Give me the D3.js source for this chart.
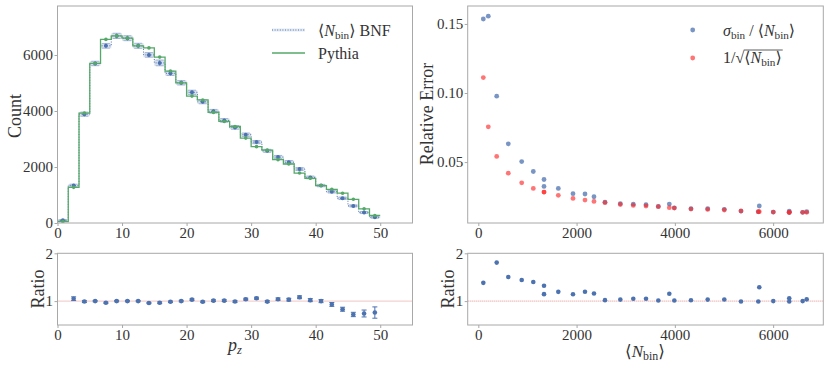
<!DOCTYPE html>
<html>
<head>
<meta charset="utf-8">
<script src="https://cdn.jsdelivr.net/npm/d3@7"></script>
<style>
  body { margin: 0; background: #fff; }
  svg text { font-family: "Liberation Serif", "DejaVu Serif", serif; fill: #333; }
</style>
</head>
<body>
<div id="chart"></div>
<script>
// p_z histogram: 30 bins of width 5/3 between 0 and 50
var binWidth = 5 / 3;
var nBins = 30;

// <N_bin> from BNF, per bin
var bnfMean = [102, 1337, 3887, 5698, 6328, 6683, 6601, 6328, 6003, 5718,
               5346, 5006, 4668, 4328, 3989, 3663, 3413, 3154, 2890, 2578,
               2354, 2171, 1927, 1628, 1337, 1119, 883, 610, 374, 203];
// Pythia counts, per bin
var pythia = [50, 1273, 3926, 5698, 6558, 6683, 6601, 6328, 6253, 5925,
              5427, 5006, 4532, 4394, 3950, 3627, 3447, 3033, 2726, 2604,
              2263, 2108, 1784, 1596, 1337, 1203, 1064, 847, 505, 267];
// sigma_bin / <N_bin>, per bin
var relErr = [0.1536, 0.0374, 0.0196, 0.0140, 0.0135, 0.0141, 0.0136, 0.0144, 0.0138, 0.0182,
              0.0145, 0.0158, 0.0162, 0.0163, 0.0169, 0.0179, 0.0191, 0.0195, 0.0199, 0.0210,
              0.0249, 0.0269, 0.0271, 0.0309, 0.0324, 0.0432, 0.0504, 0.0632, 0.0977, 0.1556];
// 1 / sqrt(<N_bin>), per bin
var invSqrt = [0.1112, 0.0283, 0.0170, 0.0141, 0.0136, 0.0136, 0.0136, 0.0136, 0.0138, 0.0141,
               0.0146, 0.0153, 0.0157, 0.0160, 0.0167, 0.0177, 0.0182, 0.0186, 0.0193, 0.0206,
               0.0215, 0.0225, 0.0237, 0.0259, 0.0283, 0.0309, 0.0350, 0.0420, 0.0541, 0.0755];

var pzTicks    = [0, 10, 20, 30, 40, 50];
var countTicks = [0, 2000, 4000, 6000];
var nTicks     = [0, 2000, 4000, 6000];
var errTicks   = [0.05, 0.10, 0.15];
var ratioTicks = [1, 2];

var BLUE = '#4c72b0', GREEN = '#55a868', RED = '#ff2a2a', FRAME = '#a8a8a8';

var svg = d3.select('#chart').append('svg')
  .attr('width', 830).attr('height', 369);

var bins = d3.range(nBins).map(function(i) {
  var lo = i * binWidth;
  return {
    lo: lo, hi: lo + binWidth, mid: lo + binWidth / 2,
    bnf: bnfMean[i], py: pythia[i],
    sig: relErr[i] * bnfMean[i],
    rel: relErr[i], pois: invSqrt[i]
  };
});

// panel boxes
var L = {x0: 57.5, x1: 412.5}, R = {x0: 467.7, x1: 823.3};
var T = {y0: 6, y1: 223}, B = {y0: 253.3, y1: 325};

var xPz    = d3.scaleLinear().domain([0, 55]).range([L.x0, L.x1]);
var yCount = d3.scaleLinear().domain([0, 7750]).range([T.y1, T.y0]);
var xN     = d3.scaleLinear().domain([-216, 7021]).range([R.x0, R.x1]);
var yErr   = d3.scaleLinear().domain([0.0059, 0.163]).range([T.y1, T.y0]);
var yRatL  = d3.scaleLinear().domain([0.5, 2]).range([B.y1, B.y0]);
var yRatR  = d3.scaleLinear().domain([0.5, 2]).range([B.y1, B.y0]);

function frame(px, py) {
  svg.append('rect')
    .attr('x', px.x0).attr('y', py.y0)
    .attr('width', px.x1 - px.x0).attr('height', py.y1 - py.y0)
    .style('fill', 'none').style('stroke', FRAME).style('stroke-width', 1);
}

function axes(xs, ys, xt, yt, py, yfmt) {
  var gx = svg.append('g').attr('transform', 'translate(0,' + py.y1 + ')')
    .call(d3.axisBottom(xs).tickValues(xt).tickSize(3).tickPadding(1).tickFormat(d3.format('d')));
  var gy = svg.append('g').attr('transform', 'translate(' + xs.range()[0] + ',0)')
    .call(d3.axisLeft(ys).tickValues(yt).tickSize(3).tickPadding(1.5).tickFormat(yfmt || d3.format('d')));
  [gx, gy].forEach(function(g) {
    g.attr('font-family', null);
    g.select('.domain').remove();
    g.selectAll('line').style('stroke', FRAME);
    g.selectAll('text').style('font-size', '15px').style('fill', '#333');
  });
}

function clip(id, px, py) {
  svg.append('clipPath').attr('id', id).append('rect')
    .attr('x', px.x0).attr('y', py.y0)
    .attr('width', px.x1 - px.x0).attr('height', py.y1 - py.y0);
}
clip('cTL', L, T); clip('cTR', R, T); clip('cBL', L, B); clip('cBR', R, B);

// ---------- top left: histogram ----------
var gTL = svg.append('g').attr('clip-path', 'url(#cTL)');

// BNF +- sigma band
var band = d3.area()
  .x(function(d) { return xPz(d.x); })
  .y0(function(d) { return yCount(d.v - d.s); })
  .y1(function(d) { return yCount(d.v + d.s); })
  .curve(d3.curveStepAfter);
var bandPts = bins.map(function(d) { return {x: d.lo, v: d.bnf, s: d.sig}; });
bandPts.push({x: bins[nBins - 1].hi, v: bins[nBins - 1].bnf, s: bins[nBins - 1].sig});
gTL.append('path').attr('d', band(bandPts))
  .style('fill', BLUE).style('fill-opacity', 0.22).style('stroke', 'none');

var step = d3.line()
  .x(function(d) { return xPz(d.x); })
  .y(function(d) { return yCount(d.v); })
  .curve(d3.curveStepAfter);

var bnfPts = bins.map(function(d) { return {x: d.lo, v: d.bnf}; });
bnfPts.push({x: bins[nBins - 1].hi, v: bins[nBins - 1].bnf});
gTL.append('path').attr('d', step(bnfPts))
  .style('fill', 'none').style('stroke', BLUE).style('stroke-width', 1)
  .style('stroke-dasharray', '1,1.6');

// BNF error bars
var eb = gTL.selectAll('g.eb').data(bins).enter().append('g').attr('class', 'eb');
eb.append('line')
  .attr('x1', function(d) { return xPz(d.mid); }).attr('x2', function(d) { return xPz(d.mid); })
  .attr('y1', function(d) { return yCount(d.bnf - d.sig); }).attr('y2', function(d) { return yCount(d.bnf + d.sig); })
  .style('stroke', BLUE).style('stroke-opacity', 0.6).style('stroke-width', 1);
[-1, 1].forEach(function(sgn) {
  eb.append('line')
    .attr('x1', function(d) { return xPz(d.mid) - 4; }).attr('x2', function(d) { return xPz(d.mid) + 4; })
    .attr('y1', function(d) { return yCount(d.bnf + sgn * d.sig); })
    .attr('y2', function(d) { return yCount(d.bnf + sgn * d.sig); })
    .style('stroke', BLUE).style('stroke-opacity', 0.45).style('stroke-width', 1);
});
eb.append('circle')
  .attr('cx', function(d) { return xPz(d.mid); }).attr('cy', function(d) { return yCount(d.bnf); })
  .attr('r', 2).style('fill', BLUE);

// Pythia
var pyPts = bins.map(function(d) { return {x: d.lo, v: d.py}; });
pyPts.push({x: bins[nBins - 1].hi, v: bins[nBins - 1].py});
gTL.append('path').attr('d', step(pyPts))
  .style('fill', 'none').style('stroke', GREEN).style('stroke-width', 1.3);
gTL.selectAll('circle.py').data(bins).enter().append('circle').attr('class', 'py')
  .attr('cx', function(d) { return xPz(d.mid); }).attr('cy', function(d) { return yCount(d.py); })
  .attr('r', 1.8).style('fill', GREEN);

frame(L, T);
axes(xPz, yCount, pzTicks, countTicks, T);

// legend (top left)
svg.append('rect').attr('x', 272).attr('y', 28.5).attr('width', 33).attr('height', 3)
  .style('fill', BLUE).style('fill-opacity', 0.15);
svg.append('line').attr('x1', 272).attr('x2', 305).attr('y1', 30).attr('y2', 30)
  .style('stroke', BLUE).style('stroke-width', 1).style('stroke-dasharray', '1,1.6');
svg.append('line').attr('x1', 272).attr('x2', 305).attr('y1', 53).attr('y2', 53)
  .style('stroke', GREEN).style('stroke-width', 1.3);

function nBinText(sel) {
  sel.append('tspan').text('\u27E8');
  sel.append('tspan').style('font-style', 'italic').text('N');
  sel.append('tspan').attr('dy', 3).style('font-size', '0.7em').text('bin');
  sel.append('tspan').attr('dy', -3).text('\u27E9');
}
var t1 = svg.append('text').attr('x', 318).attr('y', 35.5).style('font-size', '16px');
nBinText(t1);
t1.append('tspan').text(' BNF');
svg.append('text').attr('x', 318).attr('y', 58.5).style('font-size', '16px').text('Pythia');

// ---------- top right: relative errors ----------
var gTR = svg.append('g').attr('clip-path', 'url(#cTR)');
gTR.selectAll('circle.rel').data(bins).enter().append('circle').attr('class', 'rel')
  .attr('cx', function(d) { return xN(d.bnf); }).attr('cy', function(d) { return yErr(d.rel); })
  .attr('r', 2.4).style('fill', BLUE).style('fill-opacity', 0.75);
gTR.selectAll('circle.pois').data(bins).enter().append('circle').attr('class', 'pois')
  .attr('cx', function(d) { return xN(d.bnf); }).attr('cy', function(d) { return yErr(d.pois); })
  .attr('r', 2.4).style('fill', RED).style('fill-opacity', 0.65);

frame(R, T);
axes(xN, yErr, nTicks, errTicks, T, d3.format('.2f'));

// legend (top right)
svg.append('circle').attr('cx', 692.7).attr('cy', 30).attr('r', 2.4).style('fill', BLUE).style('fill-opacity', 0.75);
svg.append('circle').attr('cx', 692.7).attr('cy', 58).attr('r', 2.4).style('fill', RED).style('fill-opacity', 0.65);
var t2 = svg.append('text').attr('x', 723).attr('y', 35.5).style('font-size', '16px');
t2.append('tspan').style('font-style', 'italic').text('\u03C3');
t2.append('tspan').attr('dy', 3).style('font-size', '0.7em').text('bin');
t2.append('tspan').attr('dy', -3).text(' / ');
nBinText(t2);

var t3a = svg.append('text').attr('x', 723).attr('y', 63).style('font-size', '16px').text('1/\u221A');
var w3 = t3a.node().getComputedTextLength();
var t3b = svg.append('text').attr('x', 723 + w3).attr('y', 63).style('font-size', '16px');
nBinText(t3b);
var bb = t3b.node().getBBox();
svg.append('line').attr('x1', 723 + w3 - 0.5).attr('x2', bb.x + bb.width + 1)
  .attr('y1', bb.y + 1).attr('y2', bb.y + 1).style('stroke', '#333').style('stroke-width', 0.8);

// ---------- bottom left: BNF / Pythia ----------
var ratioL = bins.map(function(d) {
  return {x: d.mid, r: d.bnf / d.py, e: d.sig / d.py};
}).filter(function(d) { return d.r >= 0.5 && d.r <= 2; });

var gBL = svg.append('g').attr('clip-path', 'url(#cBL)');
gBL.append('line').attr('x1', L.x0).attr('x2', L.x1).attr('y1', yRatL(1)).attr('y2', yRatL(1))
  .style('stroke', '#e07070').style('stroke-width', 0.8).style('stroke-dasharray', '1,1');
var rb = gBL.selectAll('g.rb').data(ratioL).enter().append('g').attr('class', 'rb');
rb.append('line')
  .attr('x1', function(d) { return xPz(d.x); }).attr('x2', function(d) { return xPz(d.x); })
  .attr('y1', function(d) { return yRatL(d.r - d.e); }).attr('y2', function(d) { return yRatL(d.r + d.e); })
  .style('stroke', BLUE).style('stroke-width', 1);
[-1, 1].forEach(function(sgn) {
  rb.append('line')
    .attr('x1', function(d) { return xPz(d.x) - 2.5; }).attr('x2', function(d) { return xPz(d.x) + 2.5; })
    .attr('y1', function(d) { return yRatL(d.r + sgn * d.e); }).attr('y2', function(d) { return yRatL(d.r + sgn * d.e); })
    .style('stroke', BLUE).style('stroke-width', 1);
});
rb.append('circle')
  .attr('cx', function(d) { return xPz(d.x); }).attr('cy', function(d) { return yRatL(d.r); })
  .attr('r', 2.3).style('fill', BLUE);

frame(L, B);
axes(xPz, yRatL, pzTicks, ratioTicks, B);

// ---------- bottom right: sigma / sqrt(N) ----------
var ratioR = bins.map(function(d) {
  return {x: d.bnf, r: d.rel / d.pois};
}).filter(function(d) { return d.r >= 0.5 && d.r <= 2; });

var gBR = svg.append('g').attr('clip-path', 'url(#cBR)');
gBR.append('line').attr('x1', R.x0).attr('x2', R.x1).attr('y1', yRatR(1)).attr('y2', yRatR(1))
  .style('stroke', '#e07070').style('stroke-width', 0.8).style('stroke-dasharray', '1,1');
gBR.selectAll('circle').data(ratioR).enter().append('circle')
  .attr('cx', function(d) { return xN(d.x); }).attr('cy', function(d) { return yRatR(d.r); })
  .attr('r', 2.3).style('fill', BLUE);

frame(R, B);
axes(xN, yRatR, nTicks, ratioTicks, B);

// ---------- axis labels ----------
function vlabel(x, y, txt) {
  svg.append('text').attr('transform', 'translate(' + x + ',' + y + ') rotate(-90)')
    .attr('text-anchor', 'middle').style('font-size', '18px').text(txt);
}
vlabel(21, 116, 'Count');
vlabel(433, 114, 'Relative Error');
vlabel(43.5, 289, 'Ratio');
vlabel(453.5, 289, 'Ratio');

var pz = svg.append('text').attr('x', 235).attr('y', 351).attr('text-anchor', 'middle').style('font-size', '18px');
pz.append('tspan').style('font-style', 'italic').text('p');
pz.append('tspan').attr('dy', 3).style('font-size', '0.7em').style('font-style', 'italic').text('z');

var nl = svg.append('text').attr('x', 645).attr('y', 357).attr('text-anchor', 'middle').style('font-size', '17px');
nBinText(nl);
</script>
</body>
</html>
